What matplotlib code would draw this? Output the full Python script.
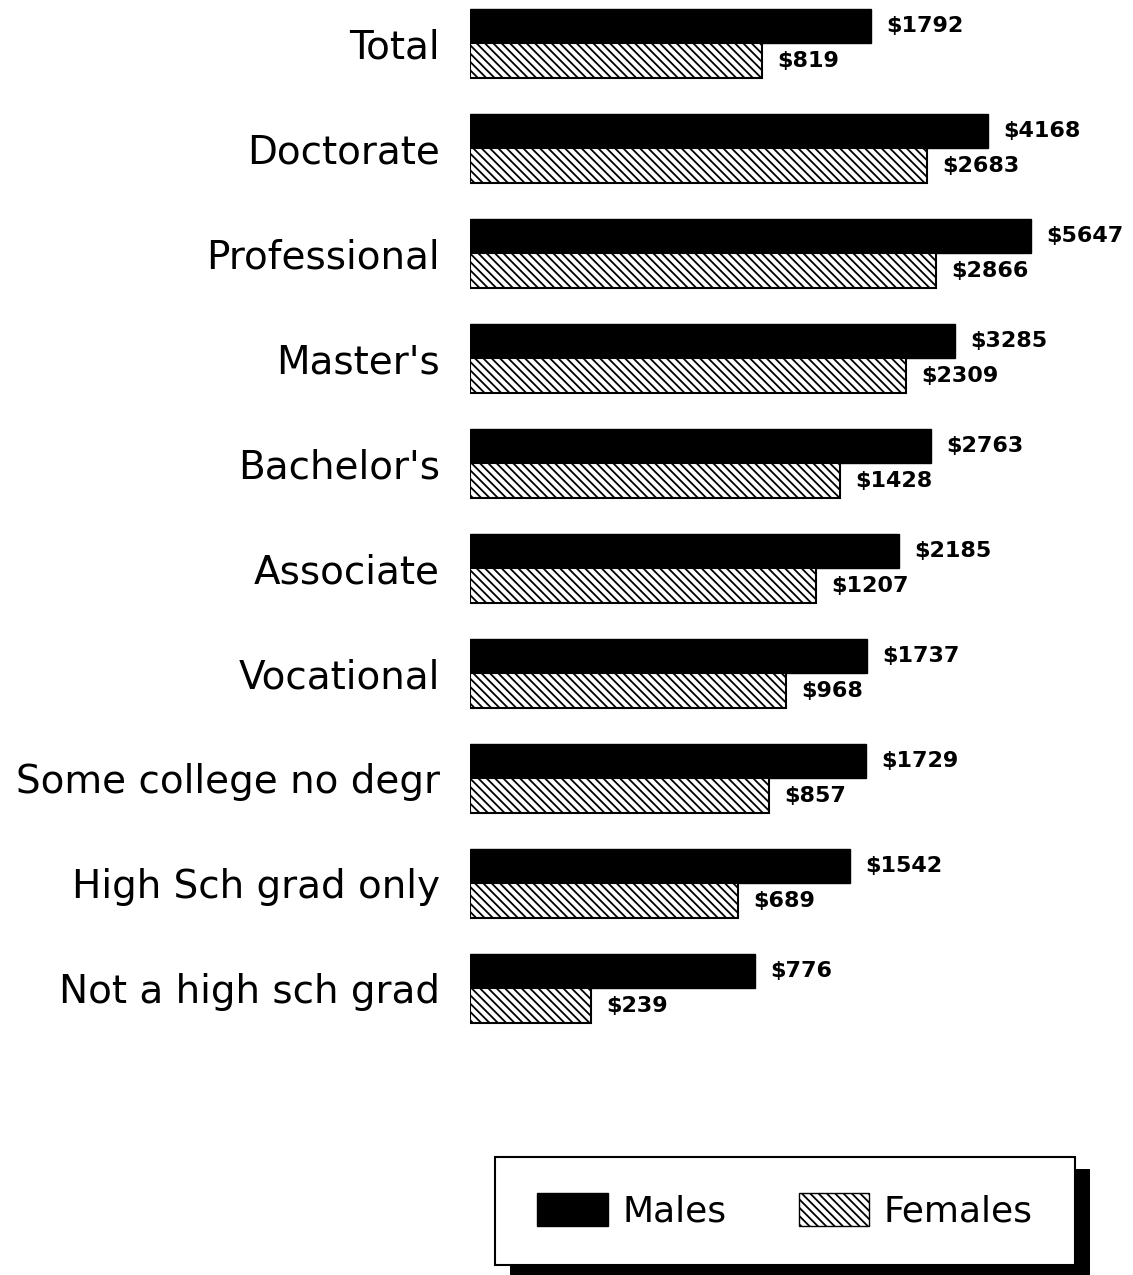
import numpy as np
import matplotlib
matplotlib.use('Agg')
import matplotlib.pyplot as plt
from matplotlib.patches import Patch, Rectangle

# monthly earnings by education
categories = ['Total', 'Doctorate', 'Professional', "Master's", "Bachelor's",
              'Associate', 'Vocational', 'Some college no degr',
              'High Sch grad only', 'Not a high sch grad']
males = [1792, 4168, 5647, 3285, 2763, 2185, 1737, 1729, 1542, 776]
females = [819, 2683, 2866, 2309, 1428, 1207, 968, 857, 689, 239]

base = 100  # log axis starts at $100

plt.rcParams['font.family'] = ['DejaVu Sans']
plt.rcParams['hatch.linewidth'] = 1.3

fig = plt.figure(figsize=(11.33, 12.75), dpi=100)
ax = fig.add_axes([0.415, 0.192, 0.585, 0.807])

y = np.arange(len(categories))
h = 0.33
males = np.array(males)
females = np.array(females)

ax.barh(y - 0.165, males - base, left=base, height=h, color='black', edgecolor='black')
ax.barh(y + 0.165, females - base, left=base, height=h, color='white',
        edgecolor='black', hatch='\\\\\\\\', linewidth=1.5)

ax.set_xscale('log')
ax.set_xlim(base, 10 ** (2 + 663 / 320))
ax.set_ylim(9.4, -0.4)

# value labels
for yi, m, f in zip(y, males, females):
    ax.annotate('$%d' % m, (m, yi - 0.165), xytext=(11, 0), textcoords='offset points',
                va='center', ha='left', fontsize=16, fontweight='bold')
    ax.annotate('$%d' % f, (f, yi + 0.165), xytext=(11, 0), textcoords='offset points',
                va='center', ha='left', fontsize=16, fontweight='bold')

ax.set_yticks(y)
ax.set_yticklabels(categories, fontsize=28)
ax.tick_params(axis='y', length=0, pad=22)
ax.minorticks_off()
ax.set_xticks([])
for s in ax.spines.values():
    s.set_visible(False)

# legend box with heavy drop shadow
bx, by, bw, bh = 495 / 1133, 1 - 1265 / 1275, 580 / 1133, 108 / 1275
fig.patches.append(Rectangle((bx + 15 / 1133, by - 12 / 1275), bw, bh,
                             transform=fig.transFigure, facecolor='black', zorder=0))
fig.patches.append(Rectangle((bx, by), bw, bh, transform=fig.transFigure,
                             facecolor='white', edgecolor='black', linewidth=1.5, zorder=1))
handles = [Patch(facecolor='black', edgecolor='black', label='Males'),
           Patch(facecolor='white', edgecolor='black', hatch='\\\\\\\\', label='Females')]
fig.legend(handles=handles, loc='center', bbox_to_anchor=(bx + bw / 2, by + bh / 2),
           ncol=2, frameon=False, fontsize=26, handlelength=1.95, handleheight=1.0,
           columnspacing=2.0, handletextpad=0.4)

plt.savefig('out.png', dpi=100)
